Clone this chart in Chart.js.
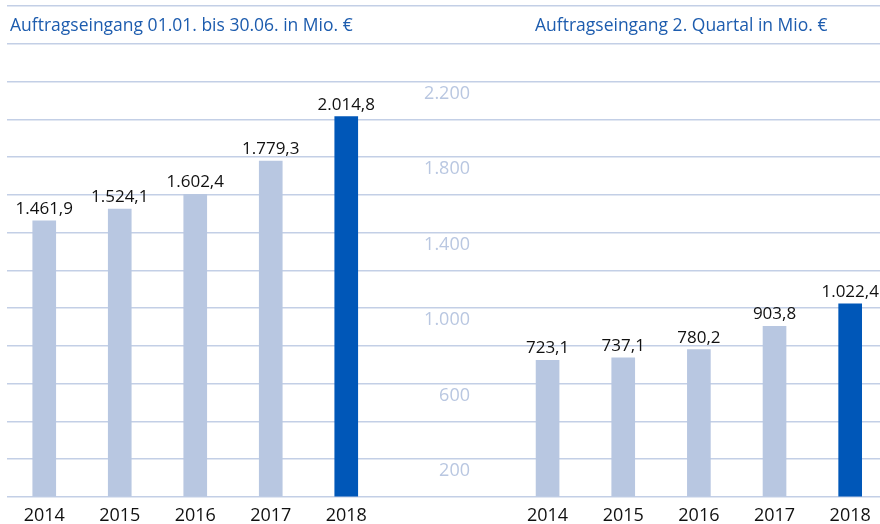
<!DOCTYPE html>
<html lang="de">
<head>
<meta charset="utf-8">
<script src="https://cdn.jsdelivr.net/npm/chart.js@4.4.0/dist/chart.umd.min.js"></script>
<style>
  html, body { margin: 0; padding: 0; background: #fff; }
  body { width: 880px; height: 524px; position: relative; overflow: hidden; }
  .box { position: absolute; top: 0; height: 524px; }
  #boxLeft { left: 0; width: 384px; }
  #boxRight { left: 384px; width: 504px; }
  .title { position: absolute; top: 12px; font: 17.5px "Open Sans", sans-serif; color: #1d5cae; white-space: nowrap; z-index: 2; }
</style>
</head>
<body>
<div class="title" style="left:10px">Auftragseingang 01.01. bis 30.06. in Mio. €</div>
<div class="title" style="left:535px">Auftragseingang 2. Quartal in Mio. €</div>
<div class="box" id="boxLeft"><canvas id="chartLeft"></canvas></div>
<div class="box" id="boxRight"><canvas id="chartRight"></canvas></div>
<script>
// Daten
var years = ['2014', '2015', '2016', '2017', '2018'];
var halfYear = [1461.9, 1524.1, 1602.4, 1779.3, 2014.8];   // 01.01. bis 30.06.
var quarter2 = [723.1, 737.1, 780.2, 903.8, 1022.4];       // 2. Quartal
var yTicksShown = [200, 600, 1000, 1400, 1800, 2200];

var lightBlue = '#b8c7e1';
var darkBlue = '#0057b8';
var gridColor = '#c3cfe6';
var fontFamily = '"Open Sans", sans-serif';

function formatDe(v, dec) {
    var parts = v.toFixed(dec).split('.');
    var intPart = parts[0].replace(/\B(?=(\d{3})+(?!\d))/g, '.');
    return parts.length > 1 ? intPart + ',' + parts[1] : intPart;
}

function barColors(values) {
    return values.map(function (v, i) { return i === values.length - 1 ? darkBlue : lightBlue; });
}

// Werte über den Balken
var valueLabels = {
    id: 'valueLabels',
    afterDatasetsDraw: function (chart) {
        var ctx = chart.ctx;
        var meta = chart.getDatasetMeta(0);
        var values = chart.data.datasets[0].data;
        ctx.save();
        ctx.font = '17px ' + fontFamily;
        ctx.fillStyle = '#111';
        ctx.textAlign = 'center';
        ctx.textBaseline = 'alphabetic';
        meta.data.forEach(function (bar, i) {
            ctx.fillText(formatDe(values[i], 1), bar.x, bar.y - 7);
        });
        ctx.restore();
    }
};

function makeChart(canvasId, values, showAxis) {
    return new Chart(document.getElementById(canvasId), {
        type: 'bar',
        data: {
            labels: years,
            datasets: [{
                data: values,
                backgroundColor: barColors(values),
                barThickness: 23
            }]
        },
        options: {
            responsive: true,
            maintainAspectRatio: false,
            animation: false,
            layout: { padding: { left: showAxis ? 0 : 6.5, top: 6, right: 0, bottom: 0 } },
            plugins: {
                legend: { display: false },
                tooltip: { enabled: false }
            },
            scales: {
                x: {
                    grid: { display: false, drawTicks: false },
                    border: { display: false },
                    ticks: { color: '#111', font: { size: 18, family: fontFamily }, padding: 8 },
                    afterFit: function (scale) { scale.height = 27; }
                },
                y: {
                    position: 'left',
                    min: 0,
                    max: 2600,
                    border: { display: false },
                    grid: {
                        color: gridColor,
                        lineWidth: 1.5,
                        drawTicks: showAxis,
                        tickLength: 125.75
                    },
                    ticks: {
                        display: showAxis,
                        stepSize: 200,
                        padding: -86,
                        labelOffset: 12,
                        color: '#b9c7e1',
                        font: { size: 18, family: fontFamily },
                        callback: function (v) {
                            return yTicksShown.indexOf(v) >= 0 ? formatDe(v, 0) : '';
                        }
                    },
                    afterFit: function (scale) { scale.width = showAxis ? 125.75 : 0; }
                }
            }
        },
        plugins: [valueLabels]
    });
}

makeChart('chartLeft', halfYear, false);
makeChart('chartRight', quarter2, true);
</script>
</body>
</html>
